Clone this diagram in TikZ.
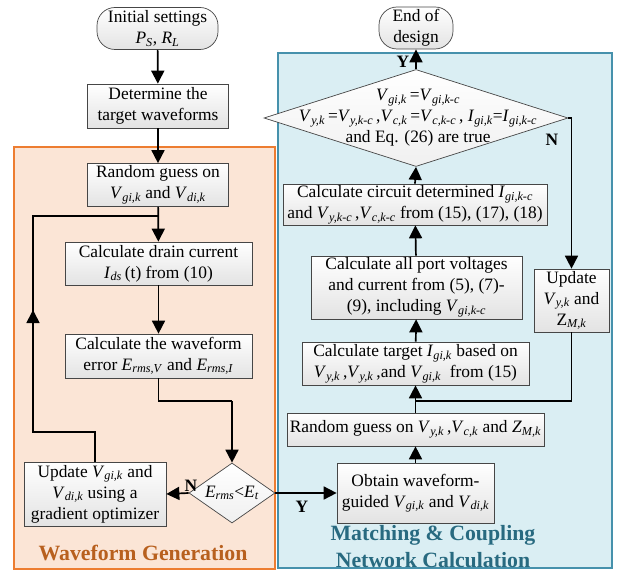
\documentclass[tikz,border=0pt]{standalone}
\usepackage{fontspec}
\setmainfont{Liberation Serif}
\usetikzlibrary{arrows.meta,shapes.geometric}
\definecolor{orfill}{RGB}{251,229,214}
\definecolor{ordraw}{RGB}{237,125,49}
\definecolor{blfill}{RGB}{218,238,243}
\definecolor{bldraw}{RGB}{70,145,172}
\definecolor{wgtext}{RGB}{184,96,30}
\definecolor{mctext}{RGB}{40,106,128}
\newcommand\sbs[2]{\textit{#1}\textsubscript{\textit{#2}}}
\newcommand\usbs[2]{#1\textsubscript{\textit{#2}}}
\newcommand\fs{\fontsize{17.4}{21}\selectfont}
\tikzset{
  box/.style={draw=gray!55!black, line width=0.7pt, top color=white, bottom color=gray!22,
    align=center, inner xsep=1pt, inner ysep=1pt, font=\fs},
  term/.style={box, rounded corners=18pt},
  dec/.style={diamond, draw=gray!55!black, line width=0.7pt, top color=white, bottom color=gray!12, inner sep=0pt},
  arr/.style={line width=1.7pt, -{Triangle[length=13pt,width=13pt]}},
  ln/.style={line width=1.6pt},
  yn/.style={font=\fs\bfseries},
  title/.style={font=\fontsize{21.8}{27}\selectfont\bfseries, align=center},
}
\begin{document}
\begin{tikzpicture}[x=1pt,y=-1pt]
\useasboundingbox (0,0) rectangle (617,572);
% regions
\draw[fill=orfill, draw=ordraw, line width=1.3pt] (14,147) rectangle (275,569);
\draw[fill=blfill, draw=bldraw, line width=1.3pt] (278,53) rectangle (612,568);
% left column
\node[term, minimum width=121pt, minimum height=42pt] (init) at (157.5,28.5) {Initial settings\\\sbs{P}{S}, \sbs{R}{L}};
\node[box, minimum width=141pt, minimum height=44pt] (det) at (158,106) {Determine the\\target waveforms};
\node[box, minimum width=141pt, minimum height=43pt] (rg1) at (158,185) {Random guess on\\\sbs{V}{gi,k} and \sbs{V}{di,k}};
\node[box, minimum width=187pt, minimum height=43pt] (drain) at (158.5,263.5) {Calculate drain current\\\sbs{I}{ds}\,(t) from (10)};
\node[box, minimum width=187pt, minimum height=44pt] (err) at (158.5,356) {Calculate the waveform\\error \sbs{E}{rms,V} and \sbs{E}{rms,I}};
\node[dec, minimum width=86pt, minimum height=60pt] (dia1) at (232,493) {};
\node[font=\fs, inner sep=0pt] (dia1t) at (232,493) {\sbs{E}{rms}{<}\sbs{E}{t}};
\node[box, minimum width=142pt, minimum height=64pt] (upd1) at (95,494) {Update \sbs{V}{gi,k} and\\\sbs{V}{di,k} using a\\gradient optimizer};
\node[title, text=wgtext] (wgt) at (143,553) {Waveform Generation};
% right column
\node[term, minimum width=74pt, minimum height=42pt] (endd) at (416,28) {End of\\design};
\node[dec, minimum width=304pt, minimum height=97pt] (dia2) at (416,118) {};
\node[font=\fs, align=center, inner sep=0pt] (dia2t) at (418,118) {\sbs{V}{gi,k}\,=\sbs{V}{gi,k-c}\\\sbs{V}{y,k}\,=\sbs{V}{y,k-c}\,,\sbs{V}{c,k}\,=\sbs{V}{c,k-c}\,, \sbs{I}{gi,k}=\sbs{I}{gi,k-c}\\and Eq. (26) are true};
\node[box, minimum width=264pt, minimum height=41pt] (circ) at (415,204.5) {Calculate circuit determined \sbs{I}{gi,k-c}\\and \sbs{V}{y,k-c}\,,\sbs{V}{c,k-c} from (15), (17), (18)};
\node[box, minimum width=211pt, minimum height=63pt] (port) at (416.5,287.5) {Calculate all port voltages\\and current from (5), (7)-\\(9), including \sbs{V}{gi,k-c}};
\node[box, minimum width=227pt, minimum height=43pt] (tgt) at (415.5,363.5) {Calculate target \sbs{I}{gi,k} based on\\\sbs{V}{y,k}\,,\sbs{V}{y,k}\,,and \sbs{V}{gi,k}\ \ from (15)};
\node[box, minimum width=257pt, minimum height=33pt] (rg2) at (415.5,429.5) {Random guess on \sbs{V}{y,k}\,,\sbs{V}{c,k} and \sbs{Z}{M,k}};
\node[box, minimum width=157pt, minimum height=60pt] (obt) at (415.5,493) {Obtain waveform-\\guided \sbs{V}{gi,k} and \sbs{V}{di,k}};
\node[box, minimum width=75pt, minimum height=63pt] (upd2) at (571.5,300.5) {Update\\\sbs{V}{y,k} and\\\usbs{Z}{M,k}};
\node[title, text=mctext] (mct) at (433,547) {Matching \& Coupling\\Network Calculation};
% helper coordinates
\coordinate (j1) at (232,401);
\coordinate (l1) at (33,432);
\coordinate (l2) at (33,216);
\coordinate (lm) at (33,310);
\coordinate (j2) at (415.5,401);
% connectors left
\draw[arr] (init) -- (det);
\draw[arr] (det) -- (rg1);
\draw[arr] (rg1) -- (drain);
\draw[arr] (drain) -- (err);
\draw[ln] (err.south) |- (j1);
\draw[arr] (j1) -- (dia1.north);
\draw[arr] (dia1.west) -- (upd1.east);
\draw[ln] (upd1.north) |- (l1) -- (l2) -- (rg1.south |- l2);
\draw[arr] (l1) -- (lm);
\draw[arr] (dia1.east) -- (obt.west);
% connectors right
\draw[arr] (obt) -- (rg2);
\draw[arr] (rg2) -- (tgt);
\draw[ln] (upd2.south) |- (j2);
\draw[arr] (tgt) -- (port);
\draw[arr] (port) -- (circ);
\draw[arr] (circ.north) -- (dia2.south);
\draw[arr] (dia2.north) -- (endd.south);
\draw[arr] (dia2.east) -| (upd2.north);
% labels
\node[yn] (nl1) at (191,486) {N};
\node[yn] (yl1) at (302,507) {Y};
\node[yn] (yl2) at (403,62) {Y};
\node[yn] (nl2) at (552,140) {N};
\end{tikzpicture}
\end{document}
